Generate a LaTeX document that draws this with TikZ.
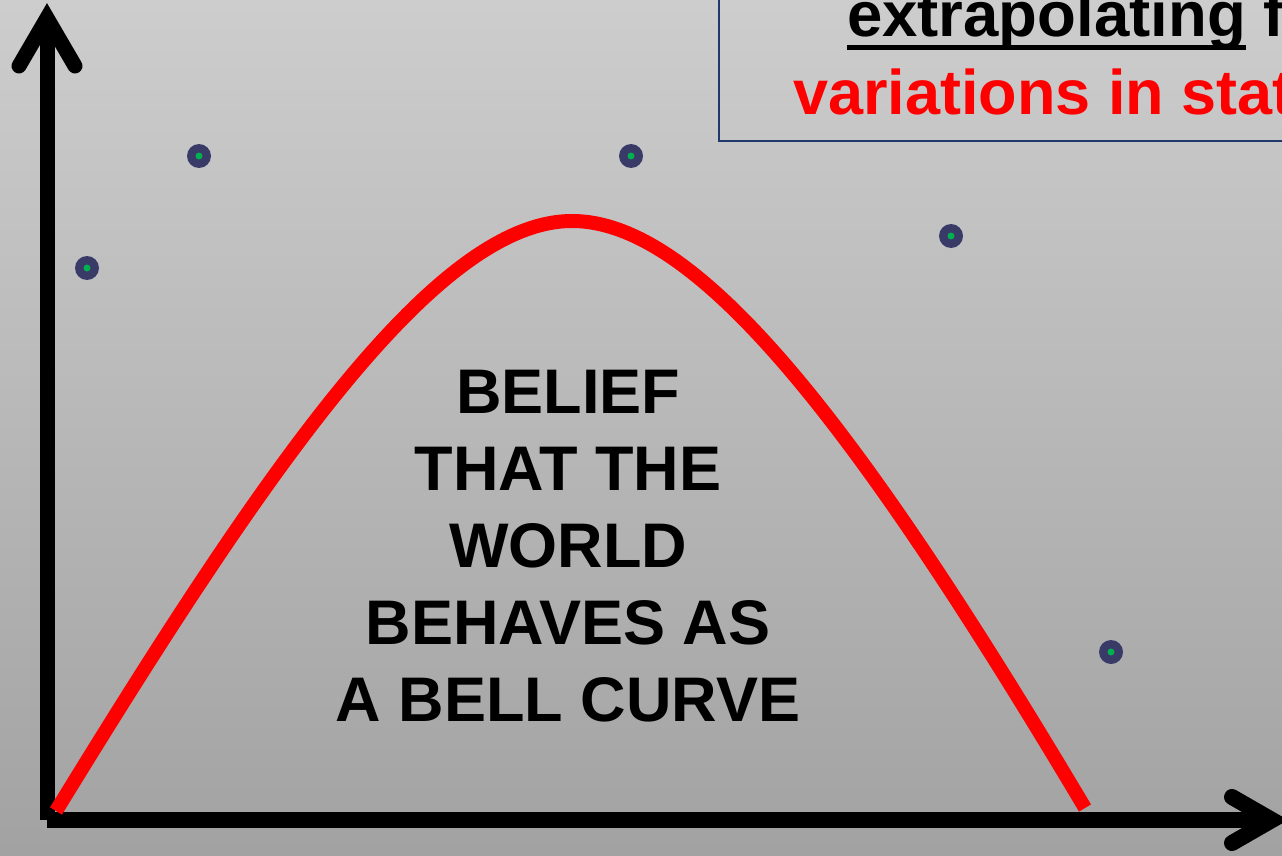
\documentclass[tikz,border=0pt]{standalone}
\usepackage{fontspec}
\setmainfont{Liberation Sans}
\usetikzlibrary{calc}
\definecolor{bgtop}{RGB}{205,205,205}
\definecolor{bgbot}{RGB}{162,162,162}
\definecolor{dotblue}{RGB}{58,58,104}
\definecolor{dotgreen}{RGB}{0,176,80}
\definecolor{boxnavy}{RGB}{31,56,110}
\tikzset{
  axis/.style={line width=15pt, black},
  chevron/.style={line width=15pt, black, line cap=round, line join=miter},
  bell/.style={line width=14pt, red},
  dotnode/.style={circle, fill=dotblue, minimum size=24pt, inner sep=0pt},
  dotcore/.style={circle, fill=dotgreen, minimum size=7pt, inner sep=0pt},
  bigtext/.style={font=\bfseries\fontsize{63}{77}\selectfont, align=center, inner sep=0pt},
  toptext/.style={anchor=base west, inner sep=0pt, font=\bfseries\fontsize{63.5}{70}\selectfont},
}
\begin{document}
\begin{tikzpicture}[x=1pt,y=-1pt]
\useasboundingbox (0,0) rectangle (1282,856);
\begin{scope}
\clip (0,0) rectangle (1282,856);
\shade[top color=bgtop, bottom color=bgbot] (0,0) rectangle (1282,856);

% top box
\draw[boxnavy, line width=2pt] (719,-10) rectangle (1320,141);
\node[toptext] (ex) at (847,37) {extrapolating};
\node[toptext] (fr) at (ex.base east) {\ f};
\draw[line width=5pt] ([yshift=-10.5pt]ex.base west) -- ([yshift=-10.5pt]ex.base east);
\node[toptext, text=red, font=\bfseries\fontsize{63}{70}\selectfont] (va) at (793,115) {variations in stat};

% dots
\foreach \n/\p in {d1/{(87,268)}, d2/{(199,156)}, d3/{(631,156)}, d4/{(951,236)}, d5/{(1111,652)}}{
  \node[dotnode] (\n) at \p {};
  \node[dotcore] at (\n.center) {};
}

% axes
\coordinate (o) at (47,820);
\coordinate (ytop) at (47,18);
\coordinate (xend) at (1272,820);
\draw[axis] (o) -- (ytop);
\draw[axis, line width=16pt] (o) -- (xend);
\draw[chevron] (19,66) -- (ytop) -- (75,66);
\draw[chevron, line width=16pt] (1232,797) -- (xend) -- (1232,843);

% bell curve
\coordinate (b0) at (56,811);
\coordinate (bp) at (572,221);
\coordinate (b1) at (1085,808);
\draw[bell] (b0) .. controls (265,470) and (435,221) .. (bp)
            .. controls (700,221) and (860,430) .. (b1);

\node[bigtext, anchor=base] (belief) at (568,721) {BELIEF\\THAT THE\\WORLD\\BEHAVES AS\\A BELL CURVE};
\end{scope}
\end{tikzpicture}
\end{document}
